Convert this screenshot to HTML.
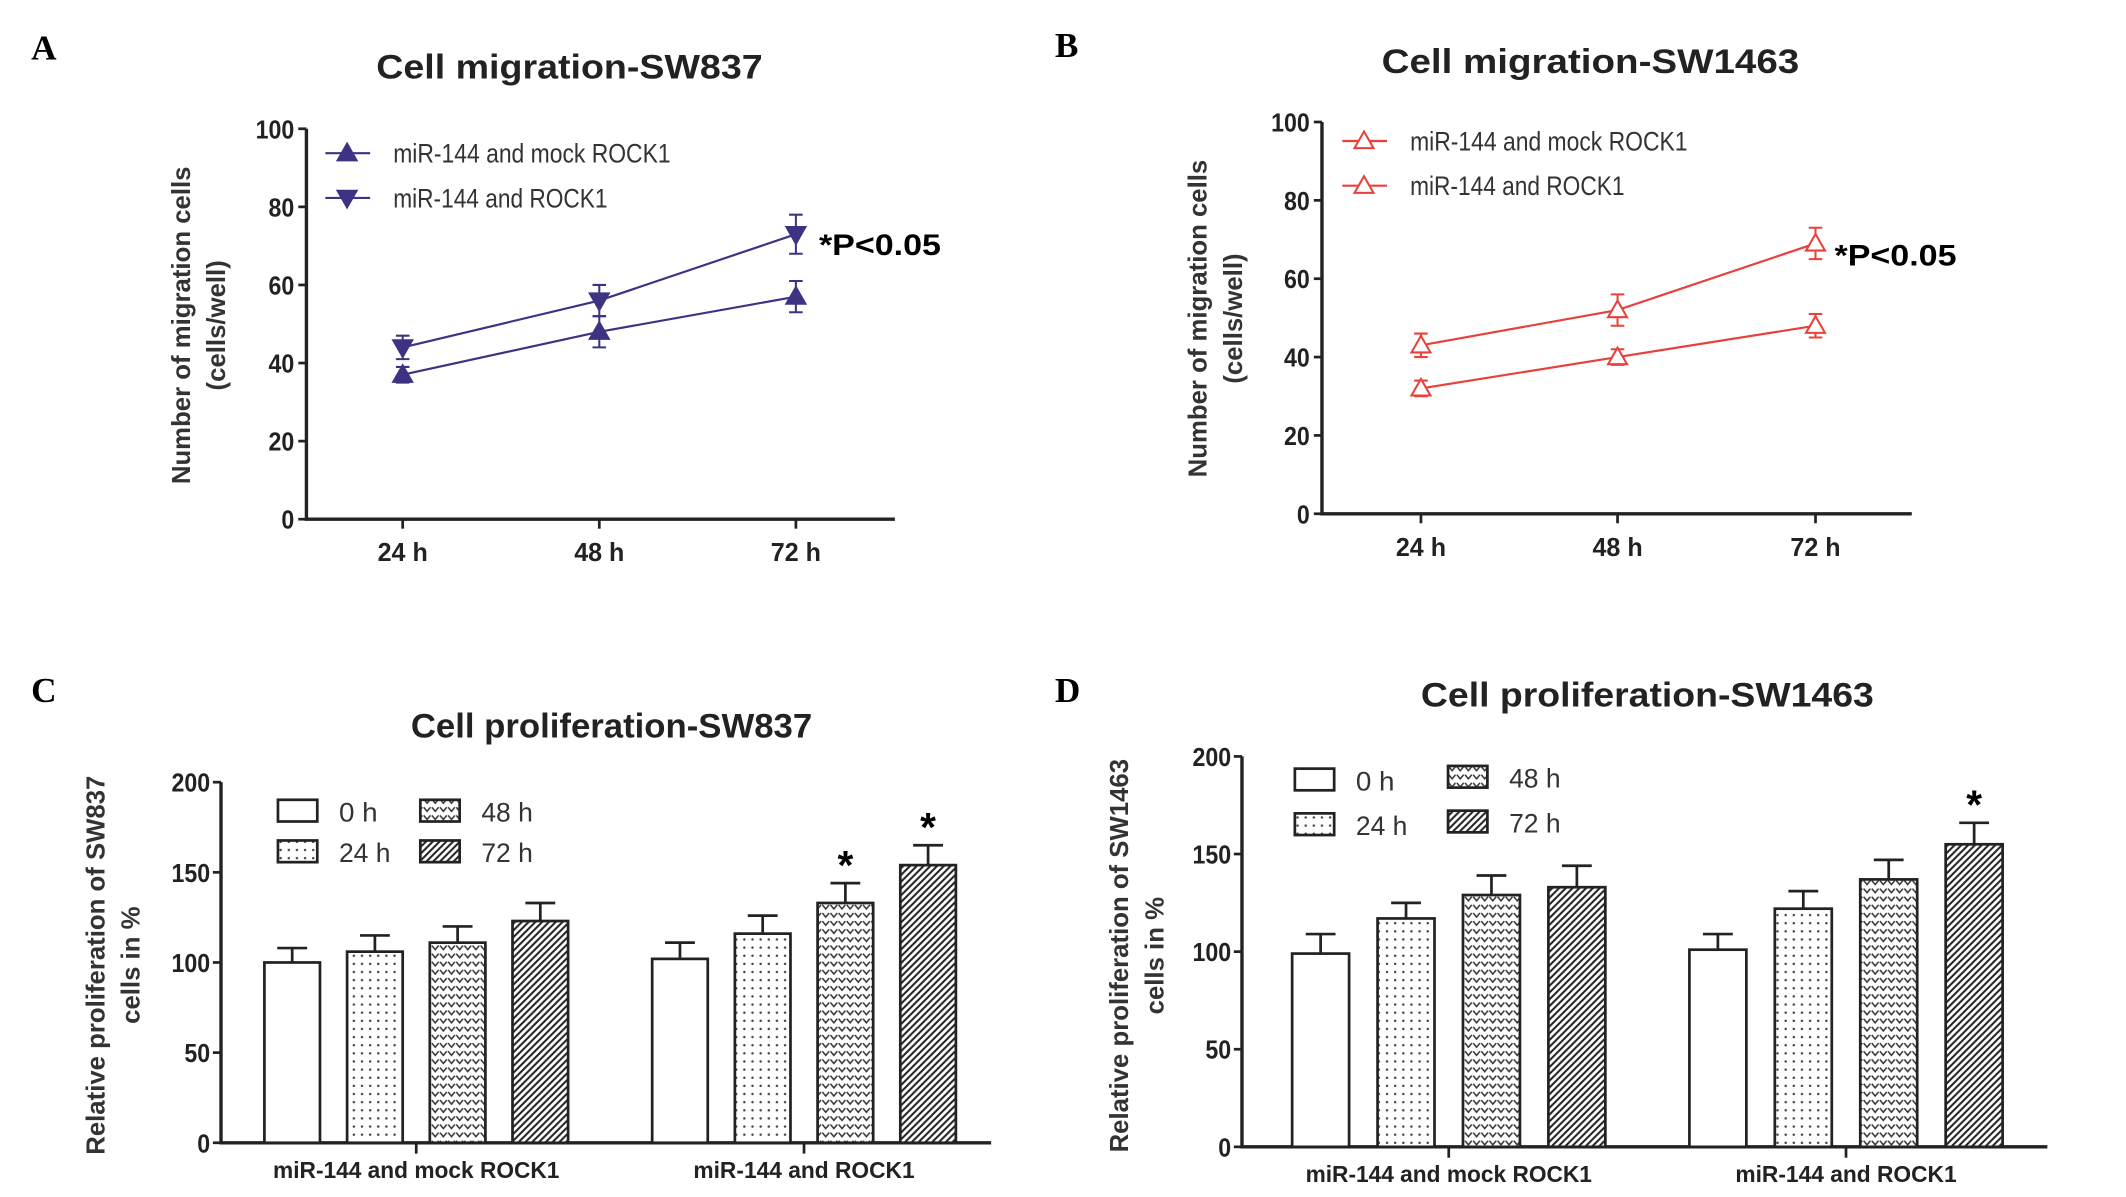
<!DOCTYPE html>
<html><head><meta charset="utf-8"><style>
html,body{margin:0;padding:0;background:#fff;}
svg{display:block;font-family:"Liberation Sans",Arial,sans-serif;}
</style></head><body>
<svg id="fig" width="2126" height="1197" viewBox="0 0 1568 883" preserveAspectRatio="none" xmlns="http://www.w3.org/2000/svg">
<defs>
<pattern id="pDots" width="6" height="6" patternUnits="userSpaceOnUse"><rect width="6" height="6" fill="#fff"/><circle cx="3" cy="3" r="0.9" fill="#444"/></pattern>
<pattern id="pChev" width="6" height="6" patternUnits="userSpaceOnUse"><rect width="6" height="6" fill="#fff"/><path d="M0.5 1.5 L3 4.5 L5.5 1.5" stroke="#333" stroke-width="1.1" fill="none"/></pattern>
<pattern id="pDiag" width="5" height="5" patternUnits="userSpaceOnUse"><rect width="5" height="5" fill="#fff"/><path d="M-1 6 L6 -1 M-1 1 L1 -1 M4 6 L6 4" stroke="#222" stroke-width="1.5"/></pattern>
</defs>
</svg>
<script>
// ---- Panel A data ----
const aCategories = ["24 h","48 h","72 h"];
const aMock = [37,48,57];
const aMockErr = [2,4,4];
const aRock = [44,56,73];
const aRockErr = [3,4,5];
// ---- Panel B data ----
const bCategories = ["24 h","48 h","72 h"];
const bMock = [32,40,48];
const bMockErr = [2,2,3];
const bRock = [43,52,69];
const bRockErr = [3,4,4];
const lineTicks = [0,20,40,60,80,100];
// ---- Panel C data ----
const barGroups = ["miR-144 and mock ROCK1","miR-144 and ROCK1"];
const barSeries = ["0 h","24 h","48 h","72 h"];
const cMock = [100,106,111,123];
const cMockErr = [8,9,9,10];
const cRock = [102,116,133,154];
const cRockErr = [9,10,11,11];
const cStars = [false,false,true,true];
// ---- Panel D data ----
const dMock = [99,117,129,133];
const dMockErr = [10,8,10,11];
const dRock = [101,122,137,155];
const dRockErr = [8,9,10,11];
const dStars = [false,false,false,true];
const barTicks = [0,50,100,150,200];

const svg = document.getElementById('fig');
const NS = 'http://www.w3.org/2000/svg';
function mk(tag, attrs, parent, txt){
  const e = document.createElementNS(NS, tag);
  for (const k in attrs) e.setAttribute(k, attrs[k]);
  if (txt !== undefined) e.textContent = txt;
  (parent || svg).appendChild(e);
  return e;
}
function txt(x,y,s,size,weight,anchor,parent,extra){
  const a = Object.assign({x:x,y:y,'font-size':size,'font-weight':weight||'normal','text-anchor':anchor||'start',fill:'#222'}, extra||{});
  return mk('text', a, parent, s);
}

function panelLabel(x,y,s){
  const t = txt(x,y,s,26,'bold','start',null,{'font-family':'"Liberation Serif",serif',fill:'#000'});
  
  
}

function lineChart(cfg){
  const g = mk('g',{});
  
  
  const yS = v => cfg.y0 + (cfg.y100 - cfg.y0) * v / 100;
  const xS = i => cfg.cx[i];
  const t = txt(cfg.titleX, cfg.titleY, cfg.title, 25, 'bold', 'middle', g, {textLength: cfg.titleLen, lengthAdjust:'spacingAndGlyphs'});
  
  
  const ax = mk('path',{d:`M${cfg.ax} ${yS(100)} L${cfg.ax} ${cfg.y0} L${cfg.xEnd} ${cfg.y0}`,stroke:'#222','stroke-width':2.5,fill:'none'},g);
  
  
  lineTicks.forEach(v=>{
    mk('line',{x1:cfg.ax-6,x2:cfg.ax,y1:yS(v),y2:yS(v),stroke:'#222','stroke-width':2},g);
    const tl = txt(cfg.ax-9, yS(v)+7, String(v), 19, 'bold', 'end', g, {textLength: String(v).length*9.5, lengthAdjust:'spacingAndGlyphs'});
    
    
  });
  cfg.cats.forEach((c,i)=>{
    mk('line',{x1:xS(i),x2:xS(i),y1:cfg.y0,y2:cfg.y0+7,stroke:'#222','stroke-width':2},g);
    const xl = txt(xS(i), cfg.y0+31, c, 19, 'bold', 'middle', g, {textLength:37, lengthAdjust:'spacingAndGlyphs'});
    
    
  });
  const yt = mk('g',{transform:`translate(${cfg.ytx},${cfg.yty}) rotate(-90)`},g);
  
  
  txt(0,0,'Number of migration cells',19,'bold','middle',yt,{fill:'#333'});
  txt(0,26,'(cells/well)',19,'bold','middle',yt,{fill:'#333'});
  cfg.series.forEach(s=>{
    const sg = mk('g',{},g);
    
    
    const pts = s.vals.map((v,i)=>xS(i)+','+yS(v)).join(' ');
    mk('polyline',{points:pts,fill:'none',stroke:cfg.color,'stroke-width':1.6},sg);
    s.vals.forEach((v,i)=>{
      const x=xS(i), e=s.err[i];
      mk('path',{d:`M${x} ${yS(v-e)} L${x} ${yS(v+e)} M${x-5} ${yS(v-e)} L${x+5} ${yS(v-e)} M${x-5} ${yS(v+e)} L${x+5} ${yS(v+e)}`,stroke:cfg.color,'stroke-width':1.5,fill:'none'},sg);
      marker(sg, x, yS(v), s.shape, cfg.color, s.open);
    });
  });
  cfg.series.forEach((s,i)=>{
    const lg = mk('g',{},g);
    
    
    const ly = cfg.legY + i*33;
    mk('line',{x1:cfg.legX,x2:cfg.legX+33,y1:ly,y2:ly,stroke:cfg.color,'stroke-width':1.6},lg);
    marker(lg, cfg.legX+16, ly, s.shape, cfg.color, s.open);
    txt(cfg.legX+50, ly+7, s.label, 20, 'normal', 'start', lg, {fill:'#333', textLength:s.label.length*9.3, lengthAdjust:'spacingAndGlyphs'});
  });
  const p = txt(cfg.pX, cfg.pY, '*P<0.05', 22, 'bold', 'start', g, {fill:'#000', textLength:90, lengthAdjust:'spacingAndGlyphs'});
  
  
}
function marker(parent,x,y,shape,color,open){
  const r=7;
  const d = shape==='up' ? `M${x} ${y-r} L${x+r} ${y+r*0.75} L${x-r} ${y+r*0.75} Z` : `M${x} ${y+r} L${x+r} ${y-r*0.75} L${x-r} ${y-r*0.75} Z`;
  mk('path',{d:d,fill:open?'#fff':color,stroke:color,'stroke-width':1.5},parent);
}

function barChart(cfg){
  const g = mk('g',{});
  
  
  const yS = v => cfg.y0 + (cfg.y200 - cfg.y0) * v / 200;
  const fills = ['#fff','url(#pDots)','url(#pChev)','url(#pDiag)'];
  const t = txt(cfg.titleX, cfg.titleY, cfg.title, 25, 'bold', 'middle', g, {textLength: cfg.titleLen, lengthAdjust:'spacingAndGlyphs'});
  
  
  const ax = mk('path',{d:`M${cfg.ax} ${yS(200)} L${cfg.ax} ${cfg.y0} L${cfg.xEnd} ${cfg.y0}`,stroke:'#222','stroke-width':2.5,fill:'none'},g);
  
  
  barTicks.forEach(v=>{
    mk('line',{x1:cfg.ax-6,x2:cfg.ax,y1:yS(v),y2:yS(v),stroke:'#222','stroke-width':2},g);
    const tl = txt(cfg.ax-8, yS(v)+7, String(v), 19, 'bold', 'end', g, {textLength: String(v).length*9.5, lengthAdjust:'spacingAndGlyphs'});
    
    
  });
  const yt = mk('g',{transform:`translate(${cfg.ytx},${cfg.yty}) rotate(-90)`},g);
  
  
  txt(0,0,cfg.ytitle,19,'bold','middle',yt,{fill:'#333'});
  txt(0,26,'cells in %',19,'bold','middle',yt,{fill:'#333'});
  const bw = cfg.bw, step = cfg.step;
  cfg.groups.forEach((grp,gi)=>{
    const gx = cfg.gStart[gi];
    const center = gx + (3*step + bw)/2;
    mk('line',{x1:center,x2:center,y1:cfg.y0,y2:cfg.y0+8,stroke:'#222','stroke-width':2},g);
    const gl = txt(center, cfg.y0+26, barGroups[gi], 17, 'bold', 'middle', g, {textLength: barGroups[gi].length*9.6, lengthAdjust:'spacingAndGlyphs'});
    
    
    grp.vals.forEach((v,i)=>{
      const x = gx + i*step, e = grp.err[i];
      const b = mk('rect',{x:x,y:yS(v),width:bw,height:cfg.y0-yS(v),fill:fills[i],stroke:'#222','stroke-width':2},g);
      
      
      mk('path',{d:`M${x+bw/2} ${yS(v)} L${x+bw/2} ${yS(v+e)} M${x+bw/2-11} ${yS(v+e)} L${x+bw/2+11} ${yS(v+e)}`,stroke:'#222','stroke-width':2,fill:'none'},g);
      if (grp.stars[i]) {
        const s = txt(x+bw/2, yS(v+e)-3, '*', 30, 'bold', 'middle', g, {fill:'#000'});
        
        
      }
    });
  });
  barSeries.forEach((s,i)=>{
    const lg = mk('g',{},g);
    
    
    const lx = cfg.legX[i], ly = cfg.legY[i];
    mk('rect',{x:lx,y:ly,width:29,height:16,fill:fills[i],stroke:'#222','stroke-width':2},lg);
    txt(lx+45, ly+16, s, 20, 'normal', 'start', lg, {fill:'#333', textLength:s.length*9.5, lengthAdjust:'spacingAndGlyphs'});
  });
}

panelLabel(23,44,'A'); panelLabel(778,42,'B'); panelLabel(23,518,'C'); panelLabel(778,518,'D');

lineChart({name:'chart-a-migration-sw837', title:'Cell migration-SW837', titleX:420, titleY:58, titleLen:285,
  ax:226, y0:383, y100:95, xEnd:660, cx:[297,442,587], cats:aCategories, color:'#3d3383',
  ytx:140, yty:240, legX:240, legY:113, pX:604, pY:188,
  series:[{name:'series-mock-rock1',vals:aMock,err:aMockErr,shape:'up',open:false,label:'miR-144 and mock ROCK1'},
          {name:'series-rock1',vals:aRock,err:aRockErr,shape:'down',open:false,label:'miR-144 and ROCK1'}]});
lineChart({name:'chart-b-migration-sw1463', title:'Cell migration-SW1463', titleX:1173, titleY:54, titleLen:308,
  ax:975, y0:379, y100:90, xEnd:1410, cx:[1048,1193,1339], cats:bCategories, color:'#e8413b',
  ytx:890, yty:235, legX:990, legY:104, pX:1353, pY:196,
  series:[{name:'series-mock-rock1',vals:bMock,err:bMockErr,shape:'up',open:true,label:'miR-144 and mock ROCK1'},
          {name:'series-rock1',vals:bRock,err:bRockErr,shape:'up',open:true,label:'miR-144 and ROCK1'}]});
barChart({name:'chart-c-proliferation-sw837', title:'Cell proliferation-SW837', titleX:451, titleY:544, titleLen:296,
  ax:163, y0:843, y200:577, xEnd:731, bw:41, step:61, gStart:[195,481],
  ytx:77, yty:712, ytitle:'Relative proliferation of SW837',
  legX:[205,205,310,310], legY:[590,620,590,620],
  groups:[{vals:cMock,err:cMockErr,stars:[false,false,false,false]},{vals:cRock,err:cRockErr,stars:cStars}]});
barChart({name:'chart-d-proliferation-sw1463', title:'Cell proliferation-SW1463', titleX:1215, titleY:521, titleLen:334,
  ax:916, y0:846, y200:558, xEnd:1510, bw:42, step:63, gStart:[953,1246],
  ytx:832, yty:705, ytitle:'Relative proliferation of SW1463',
  legX:[955,955,1068,1068], legY:[567,600,565,598],
  groups:[{vals:dMock,err:dMockErr,stars:[false,false,false,false]},{vals:dRock,err:dRockErr,stars:dStars}]});
</script>
</body></html>
